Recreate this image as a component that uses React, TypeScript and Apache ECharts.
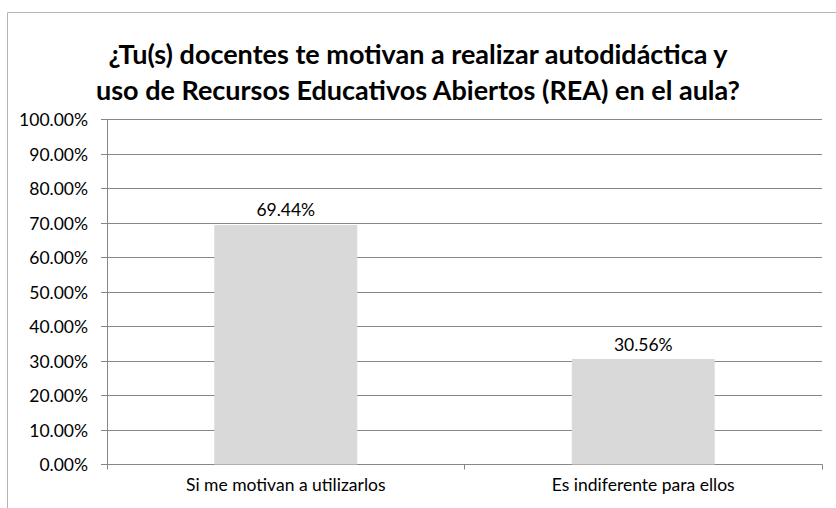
import React, { useEffect, useRef } from "react";
import * as echarts from "echarts";

const titleText = "¿Tu(s) docentes te motivan a realizar autodidáctica y\nuso de Recursos Educativos Abiertos (REA) en el aula?";
const categories = ["Si me motivan a utilizarlos", "Es indiferente para ellos"];
const values = [69.44, 30.56];
const yMin = 0;
const yMax = 100;
const yInterval = 10;

export default function App() {
  const ref = useRef<HTMLDivElement>(null);
  useEffect(() => {
    if (!ref.current) return;
    const chart = echarts.init(ref.current, null, { renderer: "svg" });
    const font = "Lato, 'Open Sans', sans-serif";
    chart.setOption({
      animation: false,
      backgroundColor: "#ffffff",
      textStyle: { fontFamily: font },
      title: {
        text: titleText,
        left: "center",
        top: 30,
        textStyle: {
          fontFamily: font,
          fontWeight: "bold",
          fontSize: 27,
          lineHeight: 36,
          color: "#000000",
        },
      },
      graphic: [
        {
          type: "rect",
          shape: { x: 7.5, y: 12.5, width: 860, height: 540 },
          style: { fill: "none", stroke: "#b3b3b3", lineWidth: 1 },
          silent: true,
        },
      ],
      grid: { left: 107, right: 14, top: 119.5, bottom: 43.5 },
      xAxis: {
        type: "category",
        data: categories,
        axisLine: { show: true, lineStyle: { color: "#868686", width: 1 } },
        axisTick: { show: true, alignWithLabel: false, length: 5, lineStyle: { color: "#868686" } },
        axisLabel: { color: "#000000", fontSize: 17.5, margin: 11, fontFamily: font },
      },
      yAxis: {
        type: "value",
        min: yMin,
        max: yMax,
        interval: yInterval,
        axisLine: { show: true, lineStyle: { color: "#868686", width: 1 } },
        axisTick: { show: true, length: 6, lineStyle: { color: "#868686" } },
        splitLine: { show: true, lineStyle: { color: "#868686", width: 1 } },
        axisLabel: {
          color: "#000000",
          fontSize: 17.5,
          margin: 19,
          fontFamily: font,
          formatter: (v: number) => v.toFixed(2) + "%",
        },
      },
      series: [
        {
          type: "bar",
          data: values,
          barWidth: "40%",
          itemStyle: { color: "#d9d9d9" },
          label: {
            show: true,
            position: "top",
            distance: 6,
            color: "#000000",
            fontSize: 17.5,
            fontFamily: font,
            formatter: (p: any) => p.value.toFixed(2) + "%",
          },
        },
      ],
    });
    return () => chart.dispose();
  }, []);
  return <div ref={ref} style={{ width: 836, height: 508, position: "absolute", left: 0, top: 0 }} />;
}
